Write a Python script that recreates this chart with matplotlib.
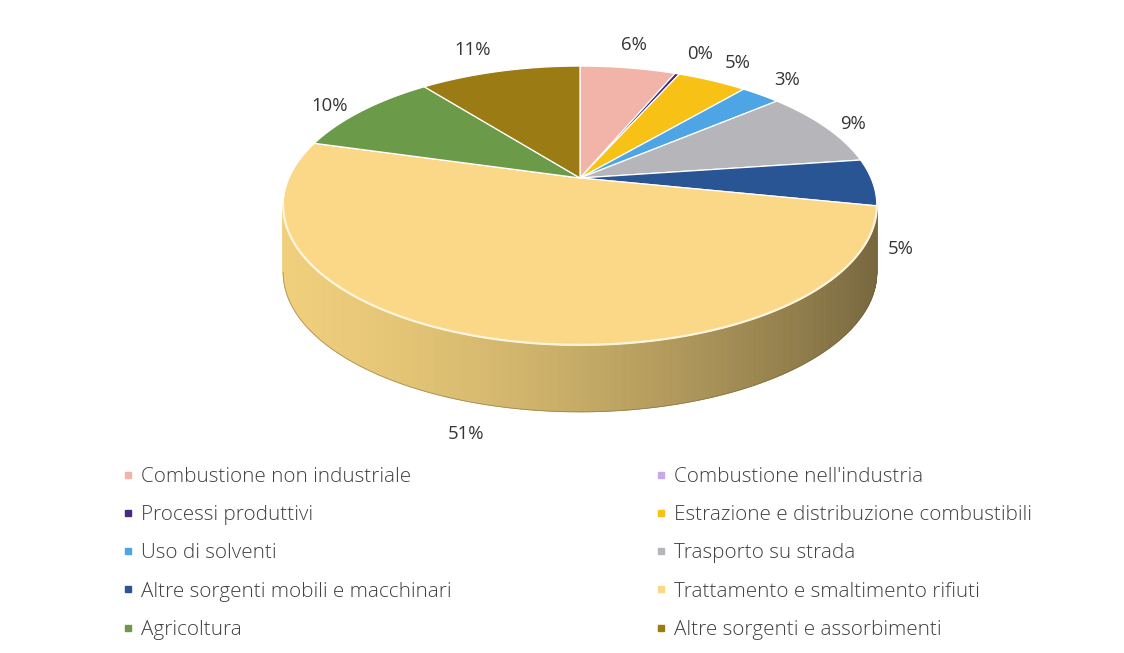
import numpy as np
import matplotlib
matplotlib.use('Agg')
import matplotlib.pyplot as plt
from matplotlib.patches import Polygon
from matplotlib.lines import Line2D
from matplotlib.colors import to_rgb

# ---------------- data ----------------
categories = [
    "Combustione non industriale",
    "Combustione nell'industria",
    "Processi produttivi",
    "Estrazione e distribuzione combustibili",
    "Uso di solventi",
    "Trasporto su strada",
    "Altre sorgenti mobili e macchinari",
    "Trattamento e smaltimento rifiuti",
    "Agricoltura",
    "Altre sorgenti e assorbimenti",
]
values = [6.3, 0.0, 0.3, 4.6, 2.6, 9.0, 5.4, 51.2, 10.0, 10.6]
colors = [
    "#F2B3A8", "#C9A8E6", "#4A2A80", "#F8C115", "#4DA5E6",
    "#B5B5BA", "#2A5594", "#FAD888", "#6B9A48", "#9B7B14",
]

plt.rcParams['font.family'] = ['Open Sans', 'DejaVu Sans']

W, H = 1124, 653
fig = plt.figure(figsize=(W / 100, H / 100), dpi=100)
ax = fig.add_axes([0, 0, 1, 1])
ax.set_xlim(0, W)
ax.set_ylim(H, 0)
ax.axis('off')

# perspective geometry of the 3D pie (screen pixels)
CX, CY, A, B, K, DEPTH = 580, 178, 291, 134, 0.197, 67


def proj(theta, r=1.0):
    t = np.radians(theta)
    u = r * np.sin(t)
    v = r * np.cos(t)
    w = 1 + K * v
    return CX + A * u / w, CY - B * v / w


def shade(c, x):
    s = np.clip((x - CX) / 297.0, -1, 1)
    f = 0.79 - 0.24 * s - 0.07 * s * s
    r, g, b = to_rgb(c)
    return (min(1, r * f), min(1, g * f), min(1, b * f * 0.95))


total = float(sum(values))
cum = np.concatenate([[0.0], np.cumsum(values)]) / total * 360.0
s1 = np.degrees(np.arccos(-K))
s2 = 360.0 - s1

# ---- side wall ----
for i in range(len(values)):
    lo, hi = max(cum[i], s1), min(cum[i + 1], s2)
    if lo >= hi:
        continue
    ts = np.arange(lo, hi, 0.5)
    ts = np.append(ts, hi)
    for t0, t1 in zip(ts[:-1], ts[1:]):
        x0, y0 = proj(t0)
        x1, y1 = proj(t1)
        col = shade(colors[i], (x0 + x1) / 2)
        ax.add_patch(Polygon([(x0, y0), (x1, y1), (x1, y1 + DEPTH), (x0, y0 + DEPTH)],
                             closed=True, facecolor=col, edgecolor=col, lw=0.6))

# bottom outline
tb = np.linspace(s1, s2, 200)
bx, by = zip(*[proj(t) for t in tb])
ax.plot(bx, np.array(by) + DEPTH, color='#6b5a30', lw=0.6, alpha=0.5)

# ---- top face ----
for i in range(len(values)):
    if values[i] <= 0:
        continue
    ts = np.linspace(cum[i], cum[i + 1], max(3, int((cum[i + 1] - cum[i]) * 2)))
    pts = [(CX, CY)] + [proj(t) for t in ts]
    ax.add_patch(Polygon(pts, closed=True, facecolor=colors[i],
                         edgecolor='white', lw=0.9, joinstyle='round'))

# highlight on front rim
ax.plot(bx, by, color='#FFF4DC', lw=1.6)

# ---- data labels ----
for i in range(len(values)):
    if values[i] <= 0:
        continue
    mid = (cum[i] + cum[i + 1]) / 2
    ex, ey = proj(mid)
    dx, dy = ex - CX, ey - CY
    n = np.hypot(dx, dy)
    dx, dy = dx / n, dy / n
    front = np.cos(np.radians(mid)) < 0
    if front:
        ey += DEPTH
    off = 22 if (front and dy > 0.5) else 15
    lx, ly = ex + dx * off, ey + dy * off
    ha = 'left' if dx > 0.45 else ('right' if dx < -0.45 else 'center')
    va = 'bottom' if dy < -0.35 else ('top' if dy > 0.35 else 'center')
    ax.text(lx, ly, f"{round(values[i] / total * 100):.0f}%", ha=ha, va=va,
            fontsize=13.3, color='#353535')

# ---- legend ----
handles = [Line2D([], [], marker='s', linestyle='none', markersize=4.5,
                  markerfacecolor=c, markeredgecolor=c) for c in colors]
order = [0, 2, 4, 6, 8, 1, 3, 5, 7, 9]
leg = fig.legend([handles[j] for j in order], [categories[j] for j in order],
                 ncol=2, loc='upper left', bbox_to_anchor=(122 / W, 1 - 467 / H),
                 frameon=False, fontsize=14.9, handlelength=0.6, handletextpad=0.3,
                 labelspacing=0.88, columnspacing=9.85, borderpad=0, borderaxespad=0)
for t in leg.get_texts():
    t.set_color('#404040')
    t.set_fontweight('light')

fig.savefig('out.png', dpi=100, facecolor='white')
